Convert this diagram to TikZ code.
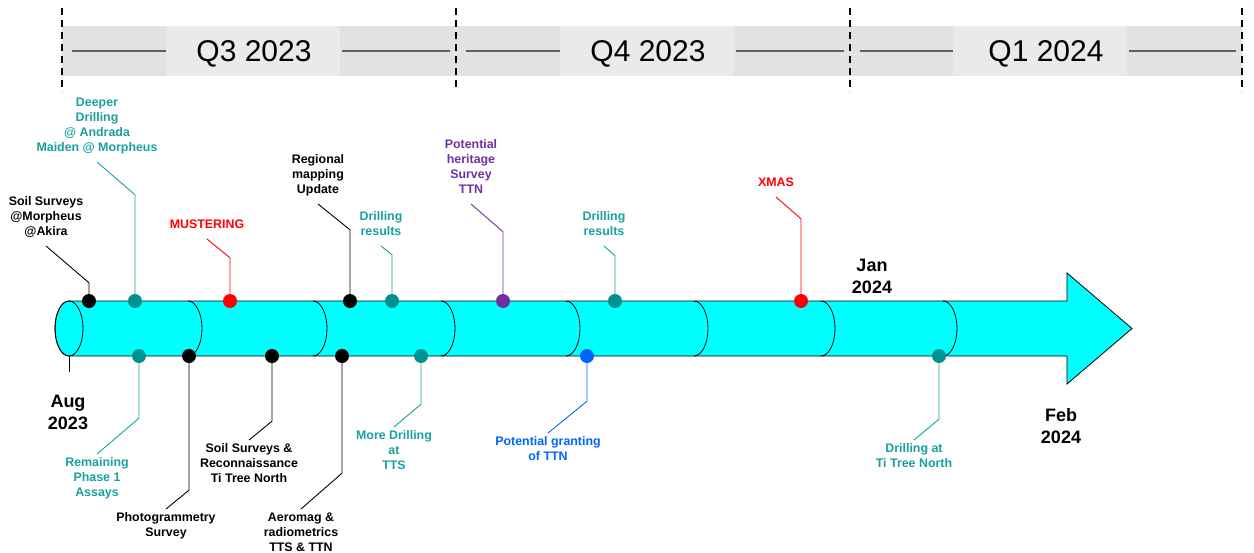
\documentclass[tikz,border=0pt]{standalone}
\usepackage{fontspec}
\setmainfont{Liberation Sans}
\usepackage{xcolor}
\definecolor{tealdot}{RGB}{0,145,145}
\definecolor{tealtxt}{RGB}{25,160,160}
\definecolor{heritage}{RGB}{112,48,160}
\definecolor{grantblue}{RGB}{0,100,255}
\definecolor{bandgray}{RGB}{226,226,228}
\definecolor{boxgray}{RGB}{234,234,236}
\definecolor{pipecyan}{RGB}{0,255,255}

\begin{document}
\begin{tikzpicture}[x=1pt, y=-1pt,
  evt/.style={circle, fill=#1, inner sep=0pt, minimum size=14pt},
  lbl/.style={font=\fontsize{12.4}{15}\selectfont\bfseries, align=center, inner xsep=0pt},
  uplbl/.style={lbl, anchor=south, inner ysep=10pt, text depth=0pt},
  lowlbl/.style={lbl, anchor=north, inner ysep=3.5pt},
  month/.style={font=\fontsize{18}{22}\selectfont\bfseries, align=center},
  quarter/.style={font=\fontsize{30}{32}\selectfont},
  lead/.style={line width=0.9pt},
  qline/.style={draw=black!62, line width=1.4pt},
  qdash/.style={line width=1.6pt, dash pattern=on 7pt off 5pt}]
\useasboundingbox (0,0) rectangle (1254,552);

% quarter band
\fill[bandgray] (62,26) rectangle (1242,76);
\fill[boxgray] (166,26) rectangle (340,76);
\fill[boxgray] (560,26) rectangle (734,76);
\fill[boxgray] (953,26) rectangle (1127,76);
\draw[qline] (72,51) -- (166,51);
\draw[qline] (342,51) -- (450,51);
\draw[qline] (466,51) -- (560,51);
\draw[qline] (736,51) -- (844,51);
\draw[qline] (860,51) -- (953,51);
\draw[qline] (1129,51) -- (1236,51);
\node[quarter] (q3) at (254,54) {Q3 2023};
\node[quarter] (q4) at (648,54) {Q4 2023};
\node[quarter] (q1) at (1046,54) {Q1 2024};
\draw[qdash] (62,8) -- (62,92);
\draw[qdash] (456,8) -- (456,92);
\draw[qdash] (850,8) -- (850,92);
\draw[qdash] (1242,8) -- (1242,92);

% time pipe
\filldraw[fill=pipecyan, draw=black, line width=0.8pt] (69,301) -- (1067,301) -- (1067,273) -- (1132,328.5)
  -- (1067,384) -- (1067,356) -- (69,356) arc[start angle=90, end angle=270, x radius=14, y radius=27.5] -- cycle;
\draw[line width=0.8pt] (69,328.5) ellipse[x radius=14, y radius=27.5];
\draw[line width=0.8pt] (188,301) arc[start angle=-90, end angle=90, x radius=14, y radius=27.5];
\draw[line width=0.8pt] (313,301) arc[start angle=-90, end angle=90, x radius=14, y radius=27.5];
\draw[line width=0.8pt] (441,301) arc[start angle=-90, end angle=90, x radius=14, y radius=27.5];
\draw[line width=0.8pt] (566,301) arc[start angle=-90, end angle=90, x radius=14, y radius=27.5];
\draw[line width=0.8pt] (694,301) arc[start angle=-90, end angle=90, x radius=14, y radius=27.5];
\draw[line width=0.8pt] (821,301) arc[start angle=-90, end angle=90, x radius=14, y radius=27.5];
\draw[line width=0.8pt] (943,301) arc[start angle=-90, end angle=90, x radius=14, y radius=27.5];
\draw[line width=0.8pt] (69,356) -- (69,372);

% months
\node[month] (aug) at (68,412) {Aug\\2023};
\node[month] (jan) at (872,276) {Jan\\2024};
\node[month] (feb) at (1061,426) {Feb\\2024};

% events above
\node[evt=black] (e1) at (89,301) {};
\node[uplbl] (l1) at (46,246) {Soil Surveys\\@Morpheus\\@Akira};
\draw[lead] (e1.north) -- ++(0,-11) -- (l1.south);

\node[evt=tealdot] (e2) at (135,301) {};
\node[uplbl, text=tealtxt] (l2) at (97,162) {Deeper\\Drilling\\@ Andrada\\Maiden @ Morpheus};
\draw[lead, tealtxt] (e2.north) -- ++(0,-99) -- (l2.south);

\node[evt=red] (e3) at (230,301) {};
\node[uplbl, text=red] (l3) at (207,239) {MUSTERING};
\draw[lead, red] (e3.north) -- ++(0,-36) -- (l3.south);

\node[evt=black] (e4) at (350,301) {};
\node[uplbl] (l4) at (318,204) {Regional\\mapping\\Update};
\draw[lead] (e4.north) -- ++(0,-64) -- (l4.south);

\node[evt=tealdot] (e5) at (392,301) {};
\node[uplbl, text=tealtxt] (l5) at (381,246) {Drilling\\results};
\draw[lead, tealtxt] (e5.north) -- ++(0,-39) -- (l5.south);

\node[evt=heritage] (e6) at (503,301) {};
\node[uplbl, text=heritage] (l6) at (471,204) {Potential\\heritage\\Survey\\TTN};
\draw[lead, heritage] (e6.north) -- ++(0,-62) -- (l6.south);

\node[evt=tealdot] (e7) at (615,301) {};
\node[uplbl, text=tealtxt] (l7) at (604,246) {Drilling\\results};
\draw[lead, tealtxt] (e7.north) -- ++(0,-38) -- (l7.south);

\node[evt=red] (e8) at (801,301) {};
\node[uplbl, text=red] (l8) at (776,197) {XMAS};
\draw[lead, red] (e8.north) -- ++(0,-75) -- (l8.south);

% events below
\node[evt=tealdot] (e9) at (139,356) {};
\node[lowlbl, text=tealtxt] (l9) at (97,454) {Remaining\\Phase 1\\Assays};
\draw[lead, tealtxt] (e9.south) -- ++(0,55) -- (l9.north);

\node[evt=black] (e10) at (189,356) {};
\node[lowlbl] (l10) at (166,509) {Photogrammetry\\Survey};
\draw[lead] (e10.south) -- ++(0,127) -- (l10.north);

\node[evt=black] (e11) at (272,356) {};
\node[lowlbl] (l11) at (249,440) {Soil Surveys \&\\Reconnaissance\\Ti Tree North};
\draw[lead] (e11.south) -- ++(0,58) -- (l11.north);

\node[evt=black] (e12) at (342,356) {};
\node[lowlbl] (l12) at (301,509) {Aeromag \&\\radiometrics\\TTS \& TTN};
\draw[lead] (e12.south) -- ++(0,110) -- (l12.north);

\node[evt=tealdot] (e13) at (421,356) {};
\node[lowlbl, text=tealtxt] (l13) at (394,427) {More Drilling\\at\\TTS};
\draw[lead, tealtxt] (e13.south) -- ++(0,41) -- (l13.north);

\node[evt=grantblue] (e14) at (587,356) {};
\node[lowlbl, text=grantblue] (l14) at (548,433) {Potential granting\\of TTN};
\draw[lead, grantblue] (e14.south) -- ++(0,38) -- (l14.north);

\node[evt=tealdot] (e15) at (939,356) {};
\node[lowlbl, text=tealtxt] (l15) at (914,440) {Drilling at\\Ti Tree North};
\draw[lead, tealtxt] (e15.south) -- ++(0,56) -- (l15.north);
\end{tikzpicture}
\end{document}
